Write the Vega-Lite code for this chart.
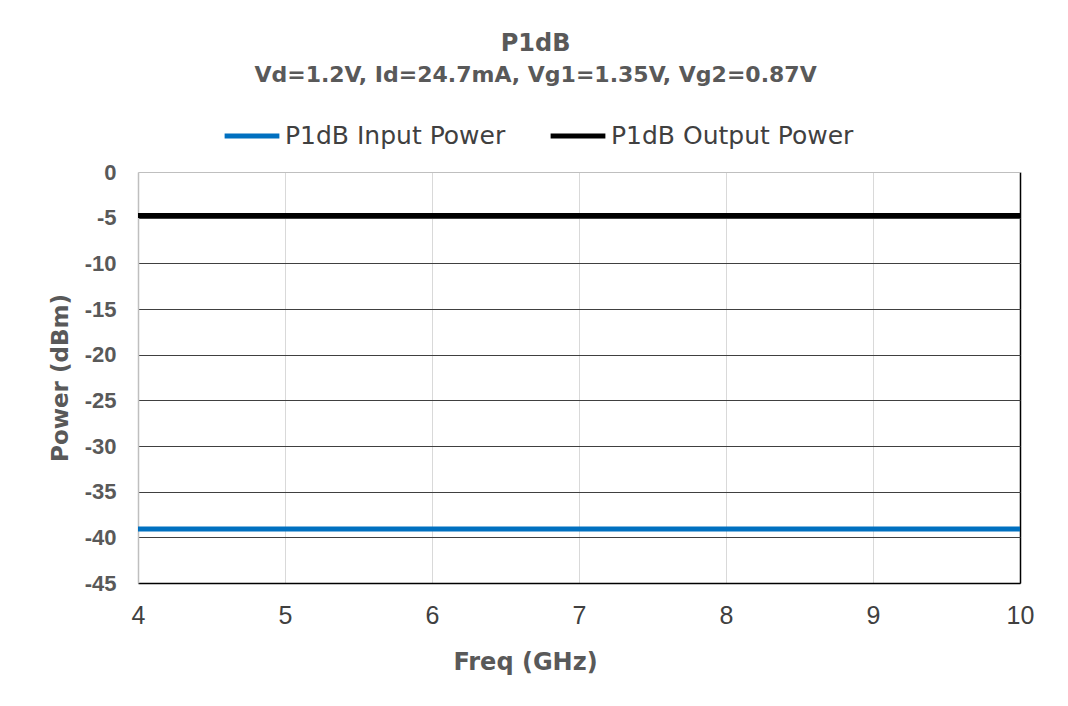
{
  "$schema": "https://vega.github.io/schema/vega-lite/v6.json",
  "width": 882,
  "height": 411,
  "autosize": {"type": "none"},
  "padding": {"left": 138, "top": 172, "right": 48, "bottom": 123},
  "background": "white",
  "config": {
    "font": "DejaVu Sans",
    "view": {"stroke": null}
  },
  "title": {
    "text": "P1dB",
    "subtitle": "Vd=1.2V, Id=24.7mA, Vg1=1.35V, Vg2=0.87V",
    "anchor": "middle",
    "frame": "bounds",
    "dx": -6,
    "font": "DejaVu Sans",
    "fontSize": 24,
    "fontWeight": "bold",
    "color": "#595959",
    "subtitleFont": "DejaVu Sans",
    "subtitleFontSize": 22,
    "subtitleFontWeight": "bold",
    "subtitleColor": "#595959",
    "subtitlePadding": 9,
    "offset": 20
  },
  "data": {
    "values": [
      {"freq": 4, "power": -39.1, "series": "P1dB Input Power"},
      {"freq": 5, "power": -39.1, "series": "P1dB Input Power"},
      {"freq": 6, "power": -39.1, "series": "P1dB Input Power"},
      {"freq": 7, "power": -39.1, "series": "P1dB Input Power"},
      {"freq": 8, "power": -39.1, "series": "P1dB Input Power"},
      {"freq": 9, "power": -39.1, "series": "P1dB Input Power"},
      {"freq": 10, "power": -39.1, "series": "P1dB Input Power"},
      {"freq": 4, "power": -4.75, "series": "P1dB Output Power"},
      {"freq": 5, "power": -4.75, "series": "P1dB Output Power"},
      {"freq": 6, "power": -4.75, "series": "P1dB Output Power"},
      {"freq": 7, "power": -4.75, "series": "P1dB Output Power"},
      {"freq": 8, "power": -4.75, "series": "P1dB Output Power"},
      {"freq": 9, "power": -4.75, "series": "P1dB Output Power"},
      {"freq": 10, "power": -4.75, "series": "P1dB Output Power"}
    ]
  },
  "mark": {"type": "line", "strokeWidth": 5, "clip": false},
  "encoding": {
    "x": {
      "field": "freq",
      "type": "quantitative",
      "scale": {"domain": [4, 10], "nice": false, "zero": false},
      "axis": {
        "title": "Freq (GHz)",
        "titleX": 387,
        "values": [4, 5, 6, 7, 8, 9, 10],
        "ticks": false,
        "labelFont": "Liberation Sans",
        "labelFontSize": 25,
        "labelColor": "#404040",
        "labelPadding": 20,
        "labelFlush": false,
        "domainColor": "#000000",
        "domainWidth": 1.5,
        "gridColor": {"condition": {"test": "datum.value == 10", "value": "#000000"}, "value": "#d9d9d9"},
        "gridWidth": {"condition": {"test": "datum.value == 10", "value": 1.5}, "value": 1},
        "titleFont": "DejaVu Sans",
        "titleFontSize": 24,
        "titleFontWeight": "bold",
        "titleColor": "#595959",
        "titlePadding": 22
      }
    },
    "y": {
      "field": "power",
      "type": "quantitative",
      "scale": {"domain": [-45, 0], "nice": false},
      "axis": {
        "title": "Power (dBm)",
        "values": [0, -5, -10, -15, -20, -25, -30, -35, -40, -45],
        "labelExpr": "datum.value + ''",
        "ticks": false,
        "labelFont": "Liberation Sans",
        "labelFontSize": 22,
        "labelFontWeight": "bold",
        "labelColor": "#595959",
        "labelPadding": 22,
        "labelFlush": false,
        "domainColor": "#bfbfbf",
        "domainWidth": 1.5,
        "gridColor": {"condition": {"test": "datum.value == 0", "value": "#bfbfbf"}, "value": "#404040"},
        "gridWidth": 1.2,
        "titleFont": "DejaVu Sans",
        "titleFontSize": 23,
        "titleFontWeight": "bold",
        "titleColor": "#595959",
        "titlePadding": 12
      }
    },
    "color": {
      "field": "series",
      "type": "nominal",
      "scale": {"domain": ["P1dB Input Power", "P1dB Output Power"], "range": ["#0070C0", "#000000"]},
      "legend": {
        "title": null,
        "orient": "none",
        "legendX": 84,
        "legendY": -66,
        "direction": "horizontal",
        "symbolType": "stroke",
        "symbolSize": 3000,
        "symbolStrokeWidth": 5,
        "labelFont": "DejaVu Sans",
        "labelFontSize": 25,
        "labelColor": "#404040",
        "labelOffset": 3,
        "columnPadding": 34,
        "labelLimit": 400
      }
    }
  }
}
